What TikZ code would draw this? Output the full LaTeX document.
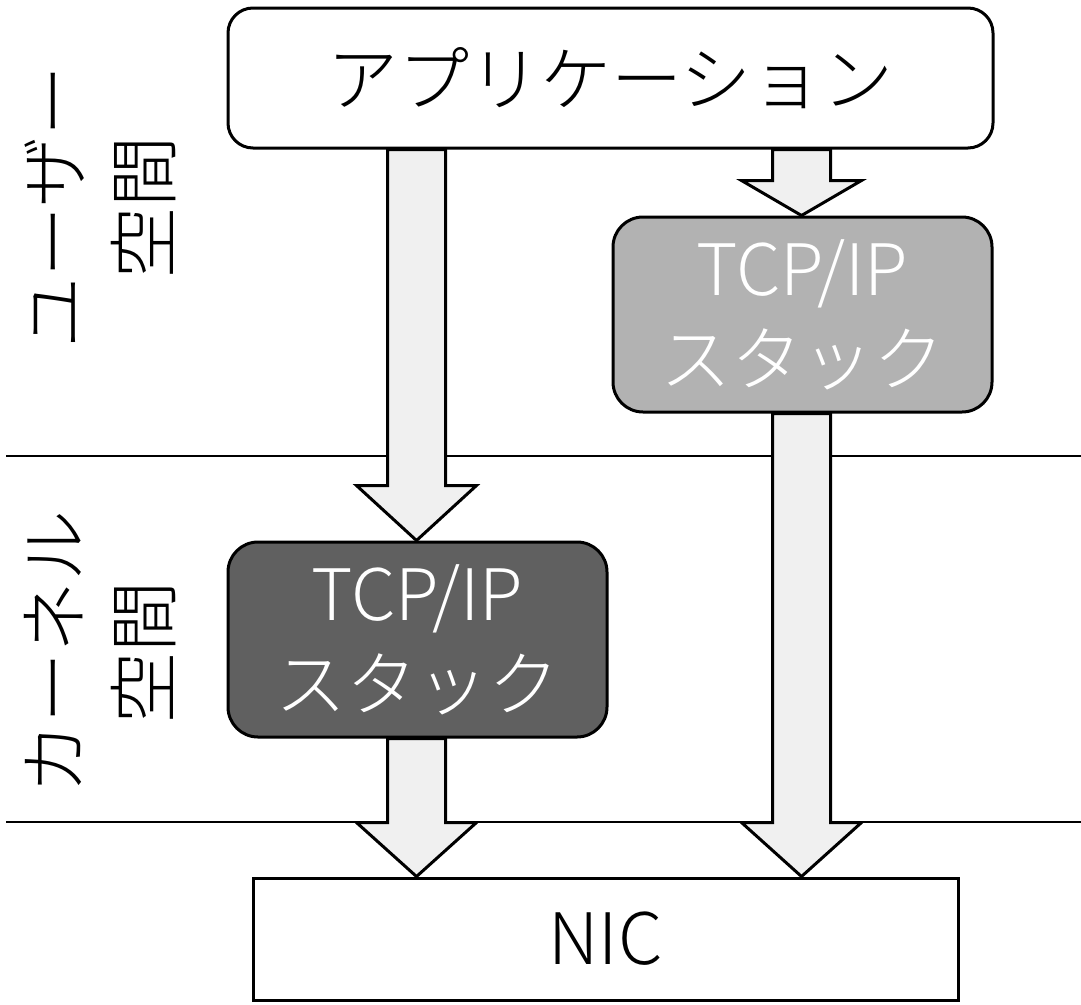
\documentclass[tikz,border=0pt]{standalone}
\usepackage{fontspec}
\setmainfont{Noto Sans CJK JP Light}
\usetikzlibrary{calc,backgrounds}
\definecolor{arrfill}{RGB}{240,240,240}
\definecolor{lightbox}{RGB}{178,178,178}
\definecolor{darkbox}{RGB}{96,96,96}
\tikzset{
  boxbase/.style={draw=black, line width=3pt, inner sep=0pt, align=center, font=\fontsize{71}{90}\selectfont},
  appbox/.style={boxbase, fill=white, rounded corners=25pt},
  stackbox/.style={boxbase, rounded corners=30pt, text=white, minimum width=379pt, minimum height=195pt},
  nicbox/.style={boxbase, fill=white},
  sideLabel/.style={rotate=90, align=center, font=\fontsize{71}{90}\selectfont},
  sepline/.style={line width=2pt},
  arr/.style={draw=black, fill=arrfill, line width=3pt, line join=miter},
}
\newcommand\blockarrow[3]{%
  \draw[arr] let \p1=(#1), \p2=(#2) in
    (\x1-29pt,\y1) -- (\x1-29pt,\y2+#3) -- (\x1-60pt,\y2+#3) -- (\x1,\y2)
    -- (\x1+60pt,\y2+#3) -- (\x1+29pt,\y2+#3) -- (\x1+29pt,\y1) -- cycle;}
\begin{document}
\begin{tikzpicture}[x=1pt,y=-1pt]
\useasboundingbox (0,0) rectangle (1081,1004);
\node[appbox, minimum width=765pt, minimum height=140pt] (app) at (610.5,78) {アプリケーション};
\node[stackbox, fill=lightbox] (user) at (802.5,314.5) {TCP/IP\\スタック};
\node[stackbox, fill=darkbox] (kern) at (417.5,639.5) {TCP/IP\\スタック};
\node[nicbox, minimum width=705pt, minimum height=122pt] (nic) at (605.5,939) {NIC};
\node[sideLabel] (ulabel) at (100,207) {ユーザー\\空間};
\node[sideLabel] (klabel) at (100,652) {カーネル\\空間};
\coordinate (L) at (416.5,0);
\coordinate (R) at (801.5,0);
\coordinate (s1a) at (6,456);
\coordinate (s1b) at (1081,456);
\coordinate (s2a) at (6,822);
\coordinate (s2b) at (1081,822);
\begin{scope}[on background layer]
  \draw[sepline] (s1a) -- (s1b);
  \draw[sepline] (s2a) -- (s2b);
  \blockarrow{L |- app.south}{L |- kern.north}{55pt}
  \blockarrow{R |- app.south}{R |- user.north}{35pt}
  \blockarrow{L |- kern.south}{L |- nic.north}{54pt}
  \blockarrow{R |- user.south}{R |- nic.north}{54pt}
\end{scope}
\end{tikzpicture}
\end{document}
